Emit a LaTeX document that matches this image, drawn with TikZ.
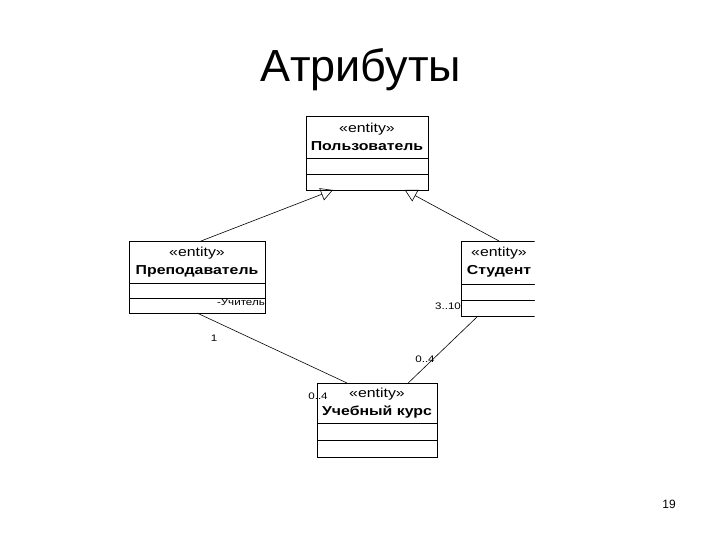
\documentclass[tikz,border=0pt]{standalone}
\usepackage{fontspec}
\setmainfont{Liberation Sans}
\newfontfamily\umlfont[FakeStretch=1.22]{Liberation Sans}
\usepackage{tikz}
\usetikzlibrary{arrows.meta,calc,positioning}

\begin{document}
\begin{tikzpicture}[x=1pt, y=-1pt,
    classhead/.style={draw, line width=0.8pt, outer sep=0pt, minimum width=#1, minimum height=42pt, inner sep=0pt, align=center, font=\umlfont\fontsize{13}{18}\selectfont},
    compart/.style={draw, line width=0.8pt, outer sep=0pt, minimum width=#1, minimum height=16pt, inner sep=0pt},
    gen/.style={-{Triangle[open, length=12pt, width=13pt]}, line width=0.6pt},
    assoc/.style={line width=0.6pt},
    mult/.style={inner sep=0pt, font=\umlfont\fontsize{9.5}{10}\selectfont}
]
\useasboundingbox (0,0) rectangle (720,540);

% Title
\node (title) at (361,70) {\fontsize{45}{50}\selectfont Атрибуты};

% Classes
\node[classhead=122pt] (user) at (367,137) {«entity»\\\textbf{Пользователь}};
\node[compart=122pt, below=0pt of user] (useratt) {};
\node[compart=122pt, below=0pt of useratt] (userops) {};

\node[classhead=136pt] (teacher) at (197,262) {«entity»\\\textbf{Преподаватель}};
\node[compart=136pt, below=0pt of teacher, minimum height=15pt] (teachatt) {};
\node[compart=136pt, below=0pt of teachatt, minimum height=15pt] (teachops) {};

\begin{scope}
\clip (0,0) rectangle (534.6,540);
\node[classhead=76pt, minimum height=43pt] (student) at (499,262.5) {«entity»\\\textbf{Студент}};
\node[compart=76pt, below=0pt of student] (studatt) {};
\node[compart=76pt, below=0pt of studatt] (studops) {};
\end{scope}

\node[classhead=120pt, minimum height=40pt] (course) at (377,403) {«entity»\\\textbf{Учебный курс}};
\node[compart=120pt, below=0pt of course, minimum height=17pt] (courseatt) {};
\node[compart=120pt, below=0pt of courseatt, minimum height=17pt] (courseops) {};

% Generalization
\draw[gen] ($(teacher.north)+(4,0)$) -- ($(userops.south west)!0.22!(userops.south east)$);
\draw[gen] (student.north) -- ($(userops.south west)!0.81!(userops.south east)$);

% Associations
\draw[assoc] (teachops.south) -- ($(course.north west)!0.25!(course.north east)$);
\draw[assoc] ($(studops.south west)+(17,0)$) -- ($(course.north west)!0.76!(course.north east)$);

% Roles and multiplicities
\node[mult, anchor=east] (role) at (265,302) {-Учитель};
\node[mult] (m1) at (214,338) {1};
\node[mult] (m2) at (448,306) {3..10};
\node[mult] (m3) at (425,359) {0..4};
\node[mult] (m4) at (318,396) {0..4};

% Page number
\node (page) at (669,504) {\fontsize{12}{14}\selectfont 19};
\end{tikzpicture}
\end{document}
